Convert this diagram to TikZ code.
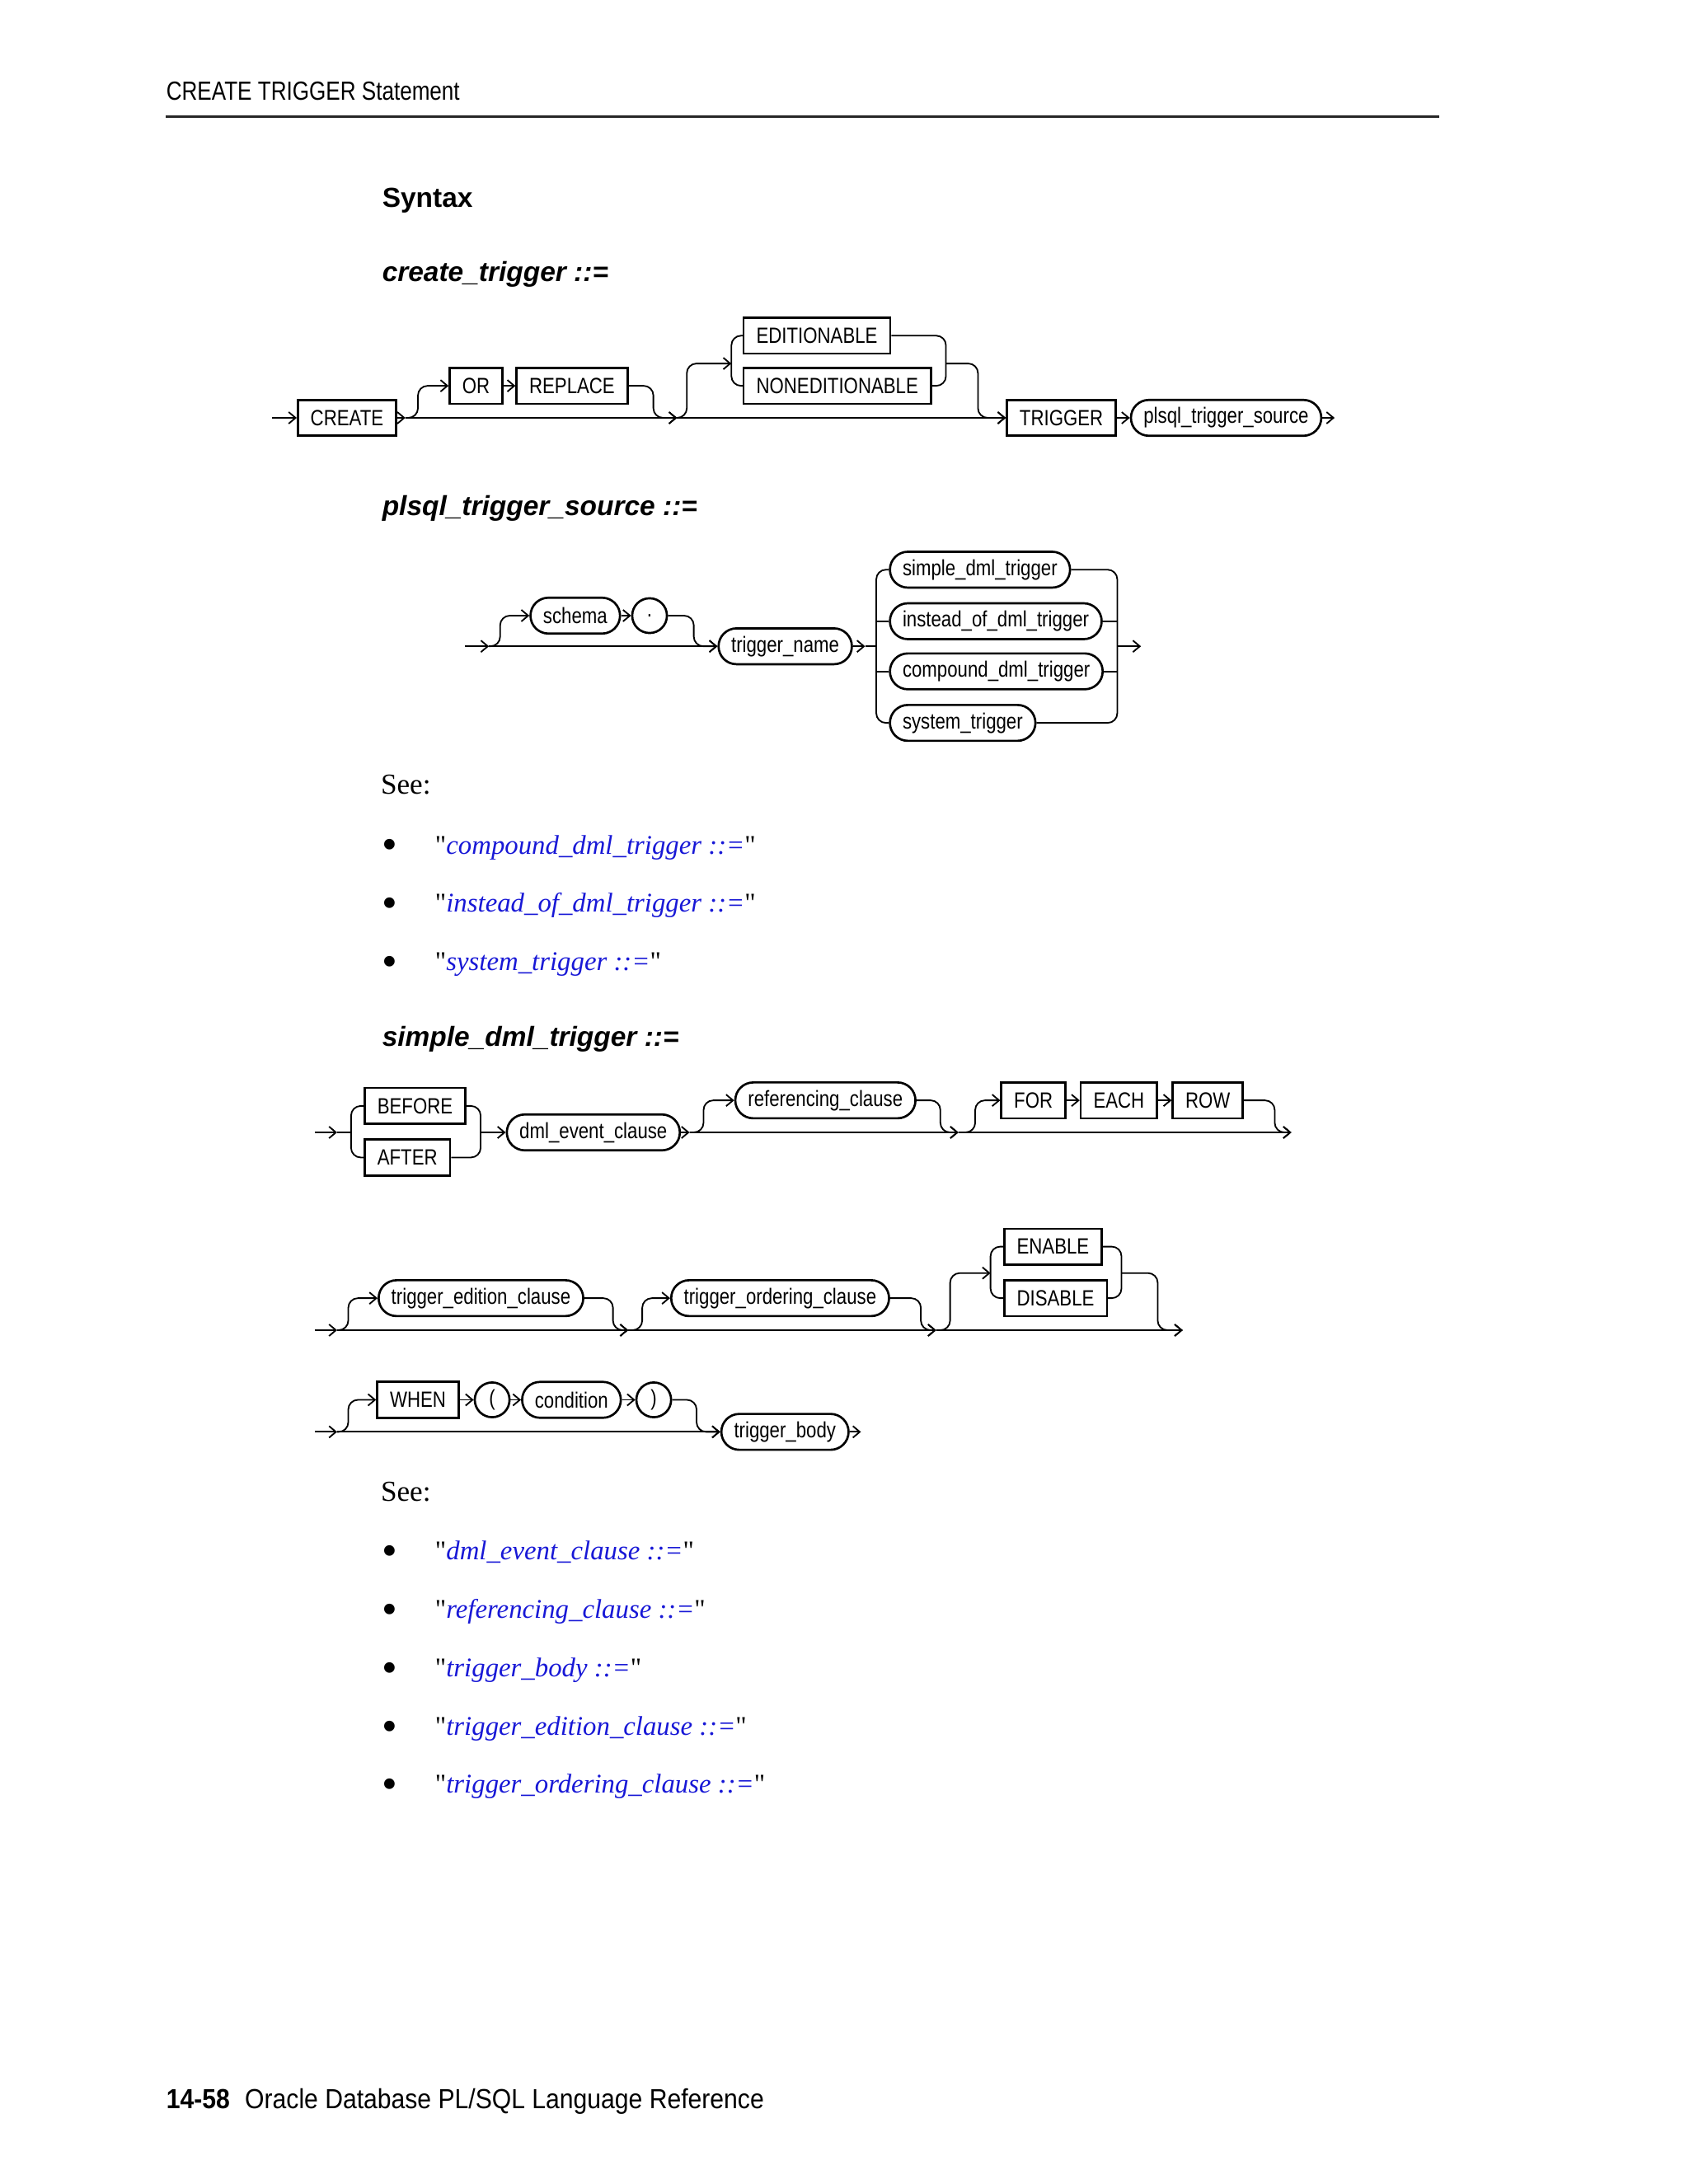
\documentclass[tikz,border=0pt]{standalone}
\usepackage{fontspec}
\usepackage{xcolor}
\usepackage{tikz}
\usetikzlibrary{arrows.meta, calc, shapes.misc}
\newfontfamily\railfont[FakeStretch=0.83]{Liberation Sans}
\newfontfamily\pagefont[FakeStretch=0.82]{Liberation Sans}
\newfontfamily\footfont[FakeStretch=0.9]{Liberation Sans}
\newfontfamily\headfont{Liberation Sans}
\newfontfamily\bodyfont{Liberation Serif}
\definecolor{linkblue}{RGB}{24,24,214}
\tikzset{
    kw/.style={draw, line width=0.8pt, minimum height=13pt, inner xsep=4.6pt, inner ysep=0pt, anchor=west, font=\railfont\fontsize{8}{9}\selectfont},
    ref/.style={kw, rounded corners=6.5pt},
    sym/.style={draw, circle, line width=0.8pt, minimum size=12.6pt, inner sep=0pt, anchor=west, font=\railfont\fontsize{8}{9}\selectfont},
    rail/.style={line width=0.55pt, rounded corners=3.5pt},
    flow/.style={rail, -{Straight Barb[length=2.5pt, width=4.2pt]}},
    heading/.style={anchor=base west, inner sep=0pt, font=\headfont\bfseries\fontsize{10}{12}\selectfont},
    seetext/.style={anchor=base west, inner sep=0pt, font=\bodyfont\fontsize{10.5}{12}\selectfont},
    seelink/.style={anchor=base west, inner sep=0pt, font=\bodyfont\fontsize{9.8}{12}\selectfont},
    bulletmark/.style={anchor=center, inner sep=0pt, font=\bodyfont\fontsize{16}{18}\selectfont}
}

\begin{document}
\begin{tikzpicture}[x=0.50495pt, y=-0.50495pt]
    \useasboundingbox (0,0) rectangle (1212,1568);

    % page head
    \node[anchor=base west, inner sep=0pt, font=\pagefont\fontsize{9.5}{11}\selectfont] (pagetitle) at (119,72) {CREATE TRIGGER Statement};
    \draw[line width=0.9pt, black!85] (119,84) -- (1033,84);
    \node[heading] (syntax) at (274,149) {Syntax};
    \node[heading] (hcreate) at (274,202) {\itshape create\_trigger ::=};

    % create_trigger
    \node[kw] (create) at (213,300) {CREATE};
    \node[kw] (orkw) at (322,277) {OR};
    \node[kw] (replace) at (370,277) {REPLACE};
    \node[kw] (editionable) at (533,241) {EDITIONABLE};
    \node[kw] (noneditionable) at (533,277) {NONEDITIONABLE};
    \node[kw] (trigger) at (722,300) {TRIGGER};
    \node[ref] (plsqlsrc) at (811,300) {plsql\_trigger\_source};
    \coordinate (c1in) at (195,300);
    \coordinate (c1a) at (291,300);
    \coordinate (c1b) at (486,300);
    \coordinate (ed1) at (525,261);
    \coordinate (ed2) at (679,261);
    \coordinate (c1out) at (958,300);
    \draw[flow] (c1in) -- (create);
    \draw[flow] (create) -- (c1a);
    \draw[flow] (c1a) -- (c1b);
    \draw[flow] (c1b) -- (trigger);
    \draw[flow] (c1a) -- ++(9,0) |- (orkw.west);
    \draw[flow] (orkw) -- (replace);
    \draw[flow] (replace.east) -| ($(c1b)+(-17,0)$) -- (c1b);
    \draw[flow] (c1b) -- ++(7,0) |- (ed1);
    \draw[rail] (editionable.west) -| (ed1) |- (noneditionable.west);
    \draw[rail] (editionable.east) -| (ed2) |- (noneditionable.east);
    \draw[flow] (ed2) -| ($(trigger.west)+(-20,0)$) -- (trigger.west);
    \draw[flow] (trigger) -- (plsqlsrc);
    \draw[flow] (plsqlsrc) -- (c1out);

    % plsql_trigger_source
    \node[heading] (hplsql) at (274,370) {\itshape plsql\_trigger\_source ::=};
    \node[ref] (schema) at (380,442) {schema};
    \node[sym] (dot) at (453,442) {.};
    \node[ref] (tname) at (515,464) {trigger\_name};
    \node[ref] (simpledml) at (638,409) {simple\_dml\_trigger};
    \node[ref] (insteaddml) at (638,446) {instead\_of\_dml\_trigger};
    \node[ref] (compounddml) at (638,482) {compound\_dml\_trigger};
    \node[ref] (systrig) at (638,519) {system\_trigger};
    \coordinate (c2in) at (334,464);
    \coordinate (c2a) at (351,464);
    \coordinate (c2b) at (621,464);
    \coordinate (alt1) at (629,464);
    \coordinate (alt2) at (802,464);
    \coordinate (c2out) at (819,464);
    \draw[flow] (c2in) -- (c2a);
    \draw[flow] (c2a) -- (tname);
    \draw[flow] (c2a) -- ++(8,0) |- (schema.west);
    \draw[flow] (schema) -- (dot);
    \draw[flow] (dot.east) -| ($(tname.west)+(-17,0)$) -- (tname.west);
    \draw[flow] (tname) -- (c2b);
    \draw[rail] (c2b) -- (alt1);
    \draw[rail] (simpledml.west) -| (alt1) |- (systrig.west);
    \draw[rail] (insteaddml.west -| alt1) -- (insteaddml.west);
    \draw[rail] (compounddml.west -| alt1) -- (compounddml.west);
    \draw[rail] (simpledml.east) -| (alt2) |- (systrig.east);
    \draw[rail] (insteaddml.east) -- (insteaddml.east -| alt2);
    \draw[rail] (compounddml.east) -- (compounddml.east -| alt2);
    \draw[flow] (alt2) -- (c2out);

    \node[seetext] (see1) at (273,570) {See:};
    \node[bulletmark] (b11) at (280,610) {•};
    \node[bulletmark] (b12) at (280,652) {•};
    \node[bulletmark] (b13) at (280,694) {•};
    \node[seelink] (l11) at (312,613) {"\textcolor{linkblue}{\itshape compound\_dml\_trigger ::=}"};
    \node[seelink] (l12) at (312,655) {"\textcolor{linkblue}{\itshape instead\_of\_dml\_trigger ::=}"};
    \node[seelink] (l13) at (312,697) {"\textcolor{linkblue}{\itshape system\_trigger ::=}"};

    % simple_dml_trigger
    \node[heading] (hsimple) at (274,751) {\itshape simple\_dml\_trigger ::=};
    \node[kw] (before) at (261,794) {BEFORE};
    \node[kw] (after) at (261,831) {AFTER};
    \node[ref] (dmlevent) at (363,813) {dml\_event\_clause};
    \node[ref] (refclause) at (527,790) {referencing\_clause};
    \node[kw] (forkw) at (718,790) {FOR};
    \node[kw] (eachkw) at (775,790) {EACH};
    \node[kw] (rowkw) at (841,790) {ROW};
    \coordinate (s1in) at (226,813);
    \coordinate (s1a) at (242,813);
    \coordinate (ba1) at (252,813);
    \coordinate (ba2) at (345,813);
    \coordinate (s1b) at (495,813);
    \coordinate (s1c) at (688,813);
    \coordinate (s1out) at (927,813);
    \draw[flow] (s1in) -- (s1a);
    \draw[rail] (s1a) -- (ba1);
    \draw[rail] (before.west) -| (ba1) |- (after.west);
    \draw[rail] (before.east) -| (ba2) |- (after.east);
    \draw[flow] (ba2) -- (dmlevent);
    \draw[flow] (dmlevent) -- (s1b);
    \draw[flow] (s1b) -- (s1c);
    \draw[flow] (s1c) -- (s1out);
    \draw[flow] (s1b) -- ++(10,0) |- (refclause.west);
    \draw[flow] (refclause.east) -| ($(s1c)+(-13,0)$) -- (s1c);
    \draw[flow] (s1c) -- ++(12,0) |- (forkw.west);
    \draw[flow] (forkw) -- (eachkw);
    \draw[flow] (eachkw) -- (rowkw);
    \draw[flow] (rowkw.east) -| ($(s1out)+(-12,0)$) -- (s1out);

    \node[ref] (edition) at (271,932) {trigger\_edition\_clause};
    \node[ref] (ordering) at (481,932) {trigger\_ordering\_clause};
    \node[kw] (enablekw) at (720,895) {ENABLE};
    \node[kw] (disablekw) at (720,932) {DISABLE};
    \coordinate (s2in) at (226,955);
    \coordinate (s2a) at (242,955);
    \coordinate (s2b) at (451,955);
    \coordinate (s2c) at (672,955);
    \coordinate (ab1) at (711,914);
    \coordinate (ab2) at (805,914);
    \coordinate (s2out) at (849,955);
    \draw[flow] (s2in) -- (s2a);
    \draw[flow] (s2a) -- (s2b);
    \draw[flow] (s2b) -- (s2c);
    \draw[flow] (s2c) -- (s2out);
    \draw[flow] (s2a) -- ++(8,0) |- (edition.west);
    \draw[flow] (edition.east) -| ($(s2b)+(-11,0)$) -- (s2b);
    \draw[flow] (s2b) -- ++(10,0) |- (ordering.west);
    \draw[flow] (ordering.east) -| ($(s2c)+(-11,0)$) -- (s2c);
    \draw[flow] (s2c) -- ++(10,0) |- (ab1);
    \draw[rail] (enablekw.west) -| (ab1) |- (disablekw.west);
    \draw[rail] (enablekw.east) -| (ab2) |- (disablekw.east);
    \draw[flow] (ab2) -| ($(s2out)+(-18,0)$) -- (s2out);

    \node[kw] (whenkw) at (270,1005) {WHEN};
    \node[sym] (lparen) at (340,1005) {(};
    \node[ref] (condition) at (374,1005) {condition};
    \node[sym] (rparen) at (456,1005) {)};
    \node[ref] (tbody) at (517,1028) {trigger\_body};
    \coordinate (s3in) at (226,1028);
    \coordinate (s3a) at (242,1028);
    \coordinate (s3out) at (618,1028);
    \draw[flow] (s3in) -- (s3a);
    \draw[flow] (s3a) -- (tbody);
    \draw[flow] (s3a) -- ++(8,0) |- (whenkw.west);
    \draw[flow] (whenkw) -- (lparen);
    \draw[flow] (lparen) -- (condition);
    \draw[flow] (condition) -- (rparen);
    \draw[flow] (rparen.east) -| ($(tbody.west)+(-17,0)$) -- (tbody.west);
    \draw[flow] (tbody) -- (s3out);

    \node[seetext] (see2) at (273,1078) {See:};
    \node[bulletmark] (b21) at (280,1117) {•};
    \node[bulletmark] (b22) at (280,1159) {•};
    \node[bulletmark] (b23) at (280,1201) {•};
    \node[bulletmark] (b24) at (280,1243) {•};
    \node[bulletmark] (b25) at (280,1284) {•};
    \node[seelink] (l21) at (312,1120) {"\textcolor{linkblue}{\itshape dml\_event\_clause ::=}"};
    \node[seelink] (l22) at (312,1162) {"\textcolor{linkblue}{\itshape referencing\_clause ::=}"};
    \node[seelink] (l23) at (312,1204) {"\textcolor{linkblue}{\itshape trigger\_body ::=}"};
    \node[seelink] (l24) at (312,1246) {"\textcolor{linkblue}{\itshape trigger\_edition\_clause ::=}"};
    \node[seelink] (l25) at (312,1287) {"\textcolor{linkblue}{\itshape trigger\_ordering\_clause ::=}"};

    % page foot
    \node[anchor=base west, inner sep=0pt, font=\footfont\fontsize{10}{12}\selectfont] (pagefoot) at (119,1514) {\textbf{14-58}\hspace{0.55em}Oracle Database PL/SQL Language Reference};
\end{tikzpicture}
\end{document}
